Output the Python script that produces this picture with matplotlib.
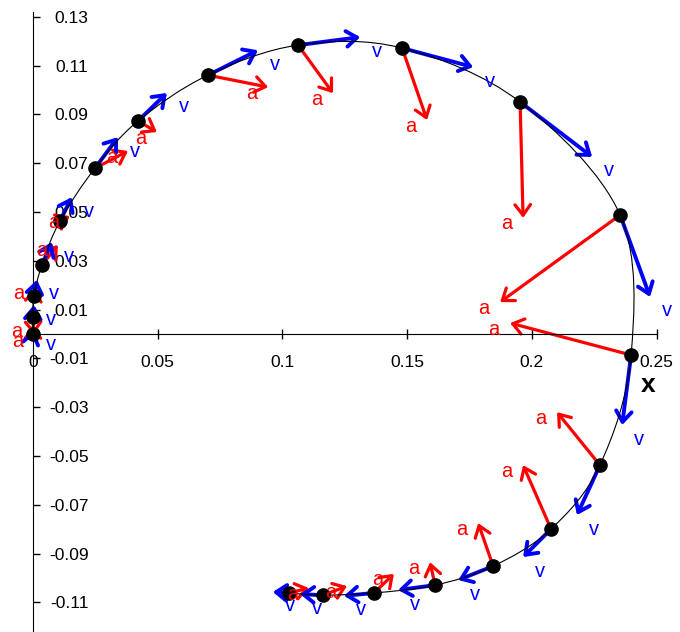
import numpy as np
import matplotlib
matplotlib.use('Agg')
import matplotlib.pyplot as plt
from matplotlib.path import Path
from matplotlib.patches import PathPatch

# positions of the particle
pos_x = [0.0000, 0.0000, 0.0004, 0.0036, 0.0108, 0.0249, 0.0421, 0.0702, 0.1063, 0.1480,
         0.1953, 0.2354, 0.2398, 0.2273, 0.2077, 0.1845, 0.1612, 0.1367, 0.1163, 0.1026]
pos_y = [0.0000, 0.0070, 0.0156, 0.0283, 0.0463, 0.0680, 0.0873, 0.1061, 0.1184, 0.1172,
         0.0951, 0.0488, -0.0086, -0.0537, -0.0799, -0.0951, -0.1029, -0.1061, -0.1070, -0.1061]

# velocity vectors (drawn to scale)
vel_x = [0.0004, 0.0004, 0.0012, 0.0040, 0.0048, 0.0092, 0.0116, 0.0200, 0.0249, 0.0285,
         0.0289, 0.0120, -0.0036, -0.0092, -0.0112, -0.0140, -0.0148, -0.0120, -0.0092, -0.0064]
vel_y = [0.0016, 0.0049, 0.0066, 0.0094, 0.0098, 0.0127, 0.0115, 0.0102, 0.0033, -0.0078,
         -0.0225, -0.0336, -0.0287, -0.0205, -0.0115, -0.0057, -0.0020, -0.0012, 0.0004, 0.0004]

# acceleration vectors (drawn to scale)
acc_x = [0.0000, 0.0004, 0.0004, 0.0064, 0.0040, 0.0132, 0.0076, 0.0241, 0.0140, 0.0100,
         0.0012, -0.0481, -0.0485, -0.0172, -0.0112, -0.0060, -0.0020, 0.0080, 0.0096, 0.0080]
acc_y = [0.0037, -0.0074, 0.0033, 0.0082, 0.0020, 0.0070, -0.0045, -0.0049, -0.0197, -0.0295,
         -0.0475, -0.0357, 0.0131, 0.0217, 0.0262, 0.0176, 0.0094, 0.0078, 0.0037, 0.0020]

xticks = [0, 0.05, 0.1, 0.15, 0.2, 0.25]
xtick_labels = ['0', '0.05', '0.1', '0.15', '0.2', '0.25']
yticks = [0.13, 0.11, 0.09, 0.07, 0.05, 0.03, 0.01, -0.01, -0.03, -0.05, -0.07, -0.09, -0.11]

plt.rcParams['font.family'] = ['Liberation Sans', 'DejaVu Sans']

fig = plt.figure(figsize=(6.8, 6.32), dpi=100)
ax = fig.add_axes([0, 0, 1, 1])
ax.set_xlim(-0.0132, 0.2594)
ax.set_ylim(-0.1221, 0.1369)

ax.spines['top'].set_visible(False)
ax.spines['right'].set_visible(False)
ax.spines['left'].set_position(('data', 0))
ax.spines['bottom'].set_position(('data', 0))
ax.spines['left'].set_bounds(-0.1221, 0.132)
ax.spines['bottom'].set_bounds(0, 0.25)

ax.set_xticks(xticks)
ax.set_xticklabels(xtick_labels)
ax.set_yticks(yticks)
ax.set_yticklabels(['{:.2f}'.format(v) for v in yticks])
ax.tick_params(axis='y', direction='in', length=5, width=1, pad=-40, labelsize=12.5)
ax.tick_params(axis='x', direction='inout', length=6.5, width=1, pad=12, labelsize=12.5)

ahead = '->,head_length=0.38,head_width=0.28'
for i in range(len(pos_x)):
    x0, y0 = pos_x[i], pos_y[i]
    # acceleration
    hx, hy = x0 + acc_x[i], y0 + acc_y[i]
    ax.annotate('', xy=(hx, hy), xytext=(x0, y0), zorder=2,
                arrowprops=dict(arrowstyle=ahead, color='#ff0000', lw=2.3,
                                shrinkA=0, shrinkB=0, mutation_scale=20))
    ax.annotate('a', xy=(hx, hy), xytext=(-16, -6), textcoords='offset pixels',
                ha='center', va='center', color='#ff0000', fontsize=14.5, zorder=6)
    # velocity
    hx, hy = x0 + vel_x[i], y0 + vel_y[i]
    ax.annotate('', xy=(hx, hy), xytext=(x0, y0), zorder=3,
                arrowprops=dict(arrowstyle=ahead, color='#0000ff', lw=2.8,
                                shrinkA=0, shrinkB=0, mutation_scale=20))
    ax.annotate('v', xy=(hx, hy), xytext=(17, -14), textcoords='offset pixels',
                ha='center', va='center', color='#0000ff', fontsize=14.5, zorder=6)

# smooth trajectory through the points (Catmull-Rom segments as cubic Bezier)
P = np.column_stack([pos_x, pos_y])
verts = [P[0]]
codes = [Path.MOVETO]
n = len(P)
for i in range(n - 1):
    p0 = P[max(i - 1, 0)]
    p1 = P[i]
    p2 = P[i + 1]
    p3 = P[min(i + 2, n - 1)]
    verts += [p1 + (p2 - p0) / 6, p2 - (p3 - p1) / 6, p2]
    codes += [Path.CURVE4, Path.CURVE4, Path.CURVE4]
ax.add_patch(PathPatch(Path(verts, codes), facecolor='none', edgecolor='black',
                       lw=0.8, zorder=4))

ax.plot(pos_x, pos_y, 'o', color='black', markersize=9.5, zorder=5)

ax.text(0.2466, -0.0209, 'x', fontsize=19, fontweight='bold', ha='center', va='center')

fig.savefig('out.png', dpi=100)
